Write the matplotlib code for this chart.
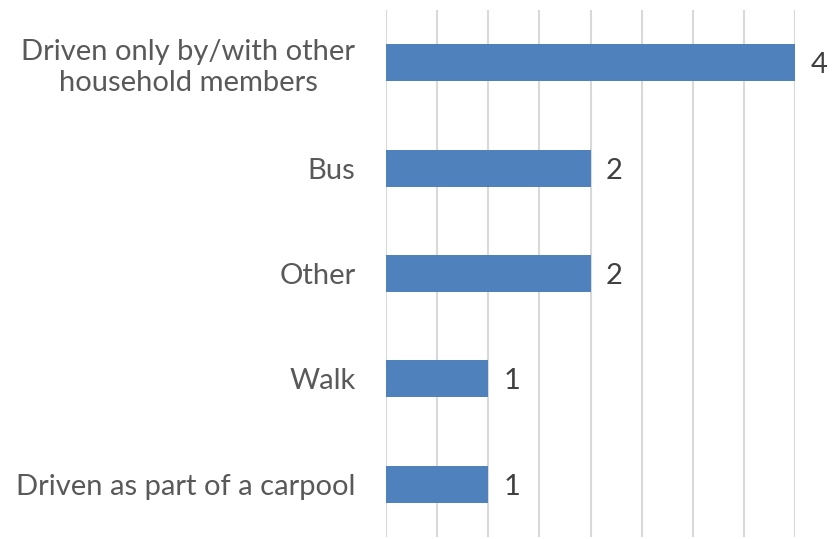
import matplotlib.pyplot as plt

categories = ["Driven only by/with other\nhousehold members",
              "Bus",
              "Other",
              "Walk",
              "Driven as part of a carpool"]
counts = [4, 2, 2, 1, 1]

plt.rcParams['font.family'] = ['Lato', 'DejaVu Sans']

fig = plt.figure(figsize=(8.35, 5.39), dpi=100)
ax = fig.add_axes([0.4623, 0.004, 0.4898, 0.9774])

pos = list(range(len(categories)))[::-1]
ax.barh(pos, counts, height=0.35, color='#4f81bd', zorder=3)

for p, c in zip(pos, counts):
    ax.text(c + 0.15, p, str(c), va='center_baseline', ha='left',
            fontsize=21, color='#404040')

ax.set_xlim(0, 4)
ax.set_ylim(-0.5, 4.5)
ax.set_xticks([i * 0.5 for i in range(9)])
ax.set_xticklabels([])
ax.tick_params(axis='x', length=0)
ax.tick_params(axis='y', length=0, pad=22)
ax.set_yticks(pos)
ax.set_yticklabels(categories, fontsize=21, color='#595959', linespacing=1.25)
for lbl in ax.get_yticklabels():
    lbl.set_multialignment('center')
ax.grid(axis='x', color='#d9d9d9', linewidth=1.5, zorder=0)
ax.grid(axis='y', visible=False)
for s in ax.spines.values():
    s.set_visible(False)

fig.savefig('out.png', dpi=100)
